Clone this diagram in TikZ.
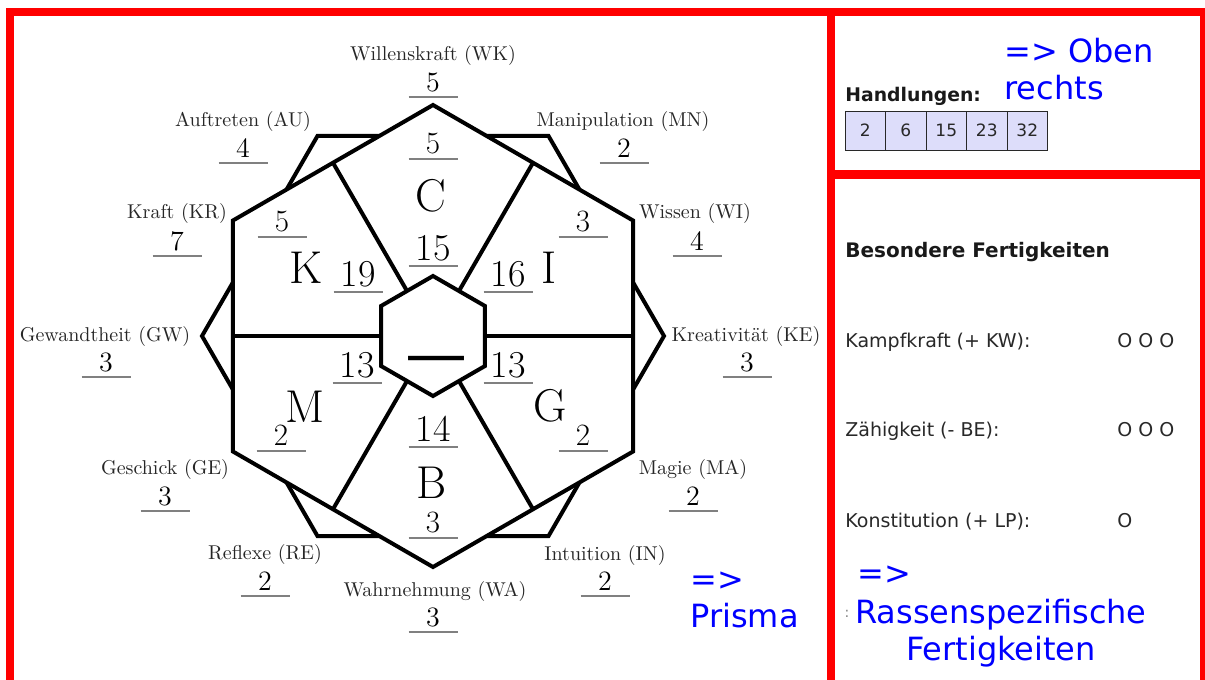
\documentclass[tikz,border=0pt]{standalone}
\usepackage{fontspec}
\newfontfamily\dejavu{DejaVu Sans}
\usetikzlibrary{calc,positioning}

\definecolor{zellblau}{RGB}{221,221,250}
\definecolor{tinte}{RGB}{40,40,40}

% Wert mit Unterstrich: Name, Stil, x, y des Strichs, Text
\newcommand{\wert}[5]{%
  \draw[strich] (#3-24.5,#4) -- (#3+24.5,#4);
  \node[#2] (#1) at (#3,#4-6) {#5};
}

\tikzset{
  rahmen/.style={draw=red, line width=4pt},
  linie/.style={line width=2pt},
  strich/.style={line width=1pt, draw=gray},
  eig/.style={inner sep=0pt, text=black!85, font=\fontsize{10}{12}\selectfont},
  aussen/.style={anchor=base, inner sep=0pt, font=\fontsize{14}{14}\selectfont},
  innen/.style={anchor=base, inner sep=0pt, font=\fontsize{15.5}{16}\selectfont},
  gross/.style={anchor=base, inner sep=0pt, font=\fontsize{19}{19}\selectfont},
  buchst/.style={anchor=base, inner sep=0pt, font=\fontsize{23}{23}\selectfont},
  fett/.style={anchor=base west, inner sep=0pt, text=black!90, font=\dejavu\bfseries\fontsize{9.4}{11}\selectfont},
  zelle/.style={draw=tinte, line width=0.5pt, fill=zellblau, inner sep=0pt, outer sep=0pt,
    minimum width=20.25pt, minimum height=19.5pt, text=tinte, font=\dejavu\fontsize{8.5}{10}\selectfont},
  eintrag/.style={anchor=base west, inner sep=0pt, text=tinte, font=\dejavu\fontsize{9.5}{11}\selectfont},
  blau/.style={inner sep=0pt, text=blue, font=\dejavu\fontsize{16}{18.5}\selectfont}
}

\begin{document}
\begin{tikzpicture}[x=0.5pt, y=-0.5pt]
  \useasboundingbox (0,0) rectangle (1205,680);
  \clip (0,0) rectangle (1205,680);

  % Rahmen
  \draw[rahmen] (10,12) rectangle (831,720);
  \draw[rahmen] (831,12) rectangle (1204,174);
  \draw[rahmen] (831,175) rectangle (1204,720);

  % Prisma
  \coordinate (m) at (433,336);
  \draw[linie, fill=white] ($(m)+(0:231)$)
    \foreach \w in {60,120,...,300} { -- ($(m)+(\w:231)$) } -- cycle;
  \draw[linie, fill=white] ($(m)+(30:231)$)
    \foreach \w in {90,150,...,330} { -- ($(m)+(\w:231)$) } -- cycle;
  \foreach \w in {0,60,...,300} { \draw[linie] ($(m)+(\w:52)$) -- ($(m)+(\w:200)$); }
  \draw[linie] ($(m)+(30:60)$)
    \foreach \w in {90,150,...,330} { -- ($(m)+(\w:60)$) } -- cycle;
  \node[anchor=base, inner sep=0pt, font=\dejavu\fontsize{31}{31}\selectfont] (leer) at (436,375) {—};

  % Eigenschaften aussen
  \node[eig] (wk) at (433,55) {Willenskraft (WK)};
  \node[eig] (au) at (243,121) {Auftreten (AU)};
  \node[eig] (mn) at (623,121) {Manipulation (MN)};
  \node[eig] (kr) at (177,213) {Kraft (KR)};
  \node[eig] (wi) at (695,213) {Wissen (WI)};
  \node[eig] (gw) at (105,336) {Gewandtheit (GW)};
  \node[eig] (ke) at (746,336) {Kreativität (KE)};
  \node[eig] (ge) at (165,469) {Geschick (GE)};
  \node[eig] (ma) at (693,469) {Magie (MA)};
  \node[eig] (re) at (265,554) {Reflexe (RE)};
  \node[eig] (in) at (605,555) {Intuition (IN)};
  \node[eig] (wa) at (435,591) {Wahrnehmung (WA)};

  \wert{wkw}{aussen}{433}{97}{5}
  \wert{auw}{aussen}{243}{163}{4}
  \wert{mnw}{aussen}{624}{163}{2}
  \wert{krw}{aussen}{177}{256}{7}
  \wert{wiw}{aussen}{697}{256}{4}
  \wert{gww}{aussen}{106}{377}{3}
  \wert{kew}{aussen}{747}{377}{3}
  \wert{gew}{aussen}{165}{511}{3}
  \wert{maw}{aussen}{693}{511}{2}
  \wert{rew}{aussen}{265}{596}{2}
  \wert{inw}{aussen}{605}{596}{2}
  \wert{waw}{aussen}{433}{632}{3}

  % Felder innen
  \wert{c1}{innen}{433}{159}{5}
  \wert{k1}{innen}{282}{237}{5}
  \wert{i1}{innen}{583}{237}{3}
  \wert{m1}{innen}{281}{451}{2}
  \wert{g1}{innen}{583}{451}{2}
  \wert{b1}{innen}{433}{538}{3}

  \wert{c2}{gross}{433}{266}{15}
  \wert{k2}{gross}{358}{292}{19}
  \wert{i2}{gross}{508}{292}{16}
  \wert{m2}{gross}{357}{383}{13}
  \wert{g2}{gross}{508}{383}{13}
  \wert{b2}{gross}{433}{447}{14}

  \node[buchst] (c) at (431,211) {C};
  \node[buchst] (k) at (306,283) {K};
  \node[buchst] (i) at (549,283) {I};
  \node[buchst] (mm) at (305,422) {M};
  \node[buchst] (g) at (550,421) {G};
  \node[buchst] (b) at (432,498) {B};

  \node[blau, anchor=base west, align=left] (prisma) at (690,627) {=>\\Prisma};

  % Oben rechts
  \node[fett] (handl) at (845,101) {Handlungen:};
  \node[zelle, anchor=north west] (h1) at (845,111) {2};
  \node[zelle, right=0pt of h1] (h2) {6};
  \node[zelle, right=0pt of h2] (h3) {15};
  \node[zelle, right=0pt of h3] (h4) {23};
  \node[zelle, right=0pt of h4] (h5) {32};
  \node[blau, anchor=base west, align=left] (oben) at (1004,99) {=> Oben\\rechts};

  % Besondere Fertigkeiten
  \node[fett, font=\dejavu\bfseries\fontsize{10}{12}\selectfont] (bes) at (845,257) {Besondere Fertigkeiten};
  \node[eintrag] (kampf) at (845,347) {Kampfkraft (+ KW):};
  \node[eintrag] (kampfo) at (1117,347) {O O O};
  \node[eintrag] (zaeh) at (845,436) {Zähigkeit (- BE):};
  \node[eintrag] (zaeho) at (1117,436) {O O O};
  \node[eintrag] (konst) at (845,527) {Konstitution (+ LP):};
  \node[eintrag] (konsto) at (1117,527) {O};
  \node[blau, anchor=base west] (pfeil) at (857,584) {=>};
  \node[eintrag, anchor=base, text=gray, font=\dejavu\fontsize{7}{8}\selectfont] (dp) at (847,617) {:};
  \node[blau, anchor=base, align=center] (rasse) at (1001,660) {Rassenspezifische\\Fertigkeiten};
\end{tikzpicture}
\end{document}
